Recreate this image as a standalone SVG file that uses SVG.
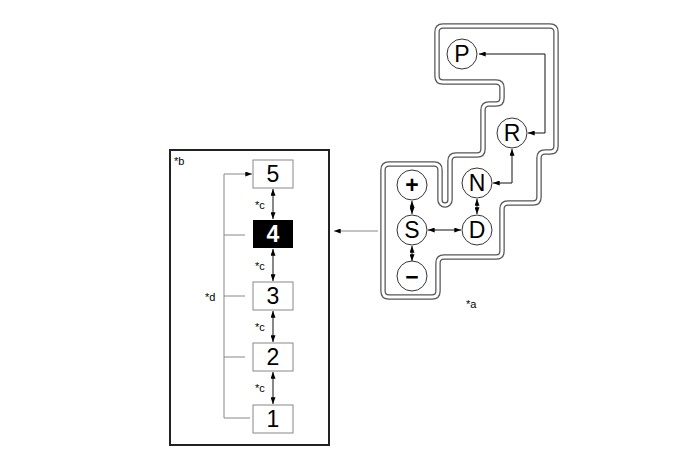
<svg xmlns="http://www.w3.org/2000/svg" width="688" height="463" viewBox="0 0 688 463">
<defs>
<marker id="ah" viewBox="0 0 8 6" refX="8" refY="3" markerWidth="7" markerHeight="5" markerUnits="userSpaceOnUse" orient="auto-start-reverse"><path d="M0,0 L8,3 L0,6 z" fill="#000"/></marker>
<path id="gatepath" d="M443,26 H550 Q556,26 556,32 V146 Q556,152 550,152 H545 Q539,152 539,158 V197 Q539,203 533,203 H508 Q502,203 502,209 V251 Q502,257 496,257 H444 Q438,257 438,263 V291 Q438,297 432,297 H389 Q383,297 383,291 V170 Q383,164 389,164 H434 Q440,164 440,170 V200 A5,5 0 0 0 450,200 V161 Q450,155 456,155 H477 Q483,155 483,149 V110 Q483,104 489,104 H496 Q502,104 502,98 V88 Q502,82 496,82 H443 Q437,82 437,76 V32 Q437,26 443,26 Z"/>
<style>
.lbl{font-family:"Liberation Sans",Arial,sans-serif;font-size:11px;fill:#000}
.big{font-family:"Liberation Sans",Arial,sans-serif;font-size:23px;fill:#000;text-anchor:middle}
.sel{font-weight:bold;fill:#fff}
.gbox{fill:#fff;stroke:#888;stroke-width:1}
.circ{fill:#fff;stroke:#333;stroke-width:1}
.ln{fill:none;stroke:#111;stroke-width:1}
.gr{fill:none;stroke:#888;stroke-width:1}
.dbl{marker-start:url(#ah);marker-end:url(#ah)}
</style>
</defs>
<rect width="688" height="463" fill="#fff"/>

<g id="gate" fill="none">
<use href="#gatepath" stroke="#555" stroke-width="5.5"/>
<use href="#gatepath" stroke="#fff" stroke-width="3"/>
</g>

<g id="connectors">
<path class="ln dbl" d="M479,54 H545 V133 H528"/>
<path class="ln dbl" d="M493,183 H512 V149"/>
<line class="ln dbl" x1="477" y1="199" x2="477" y2="214"/>
<line class="ln dbl" x1="428" y1="230" x2="461" y2="230"/>
<line class="ln dbl" x1="412" y1="201" x2="412" y2="214"/>
<line class="ln dbl" x1="412" y1="246" x2="412" y2="261"/>
<line x1="378" y1="231" x2="334" y2="231" stroke="#888" stroke-width="1" marker-end="url(#ah)"/>
<line class="ln dbl" x1="273" y1="189" x2="273" y2="219"/>
<line class="ln dbl" x1="273" y1="249" x2="273" y2="281"/>
<line class="ln dbl" x1="273" y1="311" x2="273" y2="342"/>
<line class="ln dbl" x1="273" y1="372" x2="273" y2="404"/>
<path class="gr" d="M252,174 H224 V418 H250"/>
<path d="M240,174 H252" stroke="none" fill="none" marker-end="url(#ah)"/>
<line class="gr" x1="224" y1="235" x2="245" y2="235"/>
<line class="gr" x1="224" y1="296" x2="245" y2="296"/>
<line class="gr" x1="224" y1="357" x2="245" y2="357"/>
</g>

<g id="P"><circle class="circ" cx="462" cy="54" r="15"/><text class="big" x="462" y="62">P</text></g>
<g id="R"><circle class="circ" cx="512" cy="133" r="15"/><text class="big" x="512" y="141">R</text></g>
<g id="N"><circle class="circ" cx="477" cy="183" r="15"/><text class="big" x="477" y="191">N</text></g>
<g id="plus"><circle class="circ" cx="412" cy="185" r="15"/><text class="big" x="412" y="193" font-weight="bold">+</text></g>
<g id="S"><circle class="circ" cx="412" cy="230" r="15"/><text class="big" x="412" y="238">S</text></g>
<g id="D"><circle class="circ" cx="477" cy="230" r="15"/><text class="big" x="477" y="238">D</text></g>
<g id="minus"><circle class="circ" cx="412" cy="276" r="15"/><text class="big" x="412" y="285" font-weight="bold" font-size="30">−</text></g>
<text class="lbl" x="466" y="308">*a</text>

<g id="panel">
<rect x="170" y="150" width="159" height="295" fill="none" stroke="#222" stroke-width="2"/>
<text class="lbl" x="174" y="165">*b</text>
</g>
<g id="g5"><rect class="gbox" x="253" y="160" width="40" height="28"/><text class="big" x="273" y="182">5</text></g>
<g id="g4"><rect x="253" y="220" width="40" height="28" fill="#000"/><text class="big sel" x="273" y="242">4</text></g>
<g id="g3"><rect class="gbox" x="253" y="282" width="40" height="28"/><text class="big" x="273" y="304">3</text></g>
<g id="g2"><rect class="gbox" x="253" y="343" width="40" height="28"/><text class="big" x="273" y="365">2</text></g>
<g id="g1"><rect class="gbox" x="253" y="405" width="40" height="28"/><text class="big" x="273" y="427">1</text></g>
<text class="lbl" x="255" y="209">*c</text>
<text class="lbl" x="255" y="270">*c</text>
<text class="lbl" x="255" y="331">*c</text>
<text class="lbl" x="255" y="392">*c</text>
<text class="lbl" x="205" y="301">*d</text>
</svg>
